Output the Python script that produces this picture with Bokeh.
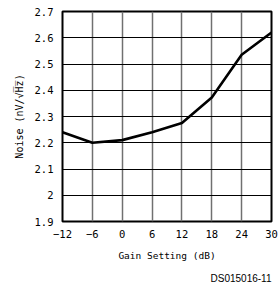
from bokeh.plotting import figure
from bokeh.embed import file_html
from bokeh.resources import INLINE
from bokeh.models import Title, FixedTicker

gain_db = [-12, -6, 0, 6, 12, 18, 24, 30]
noise = [2.24, 2.20, 2.21, 2.24, 2.275, 2.372, 2.535, 2.62]
x_ticks = [-12, -6, 0, 6, 12, 18, 24, 30]
x_tick_labels = ["\u221212", "\u22126", "0", "6", "12", "18", "24", "30"]
y_ticks = [1.9, 2.0, 2.1, 2.2, 2.3, 2.4, 2.5, 2.6, 2.7]
y_tick_labels = ["1.9", "2", "2.1", "2.2", "2.3", "2.4", "2.5", "2.6", "2.7"]
figure_id = "DS015016-11"

MONO = "DejaVu Sans Mono"

p = figure(width=280, height=282, output_backend="svg", toolbar_location=None,
           x_range=(-12, 30), y_range=(1.9, 2.7),
           frame_width=209, frame_height=210,
           min_border_left=62, min_border_top=11, min_border_right=9, min_border_bottom=0)

p.line(gain_db, noise, line_color="black", line_width=2.6)

p.xaxis.ticker = FixedTicker(ticks=x_ticks)
p.yaxis.ticker = FixedTicker(ticks=y_ticks)
p.xaxis.major_label_overrides = {t: l for t, l in zip(x_ticks, x_tick_labels)}
p.yaxis.major_label_overrides = {t: l for t, l in zip(y_ticks, y_tick_labels)}

for ax in (p.xaxis, p.yaxis):
    ax.major_tick_out = 0
    ax.major_tick_in = 0
    ax.minor_tick_out = 0
    ax.minor_tick_in = 0
    ax.axis_line_color = None
    ax.major_label_text_font = MONO
    ax.major_label_text_font_size = "10.5px"
    ax.major_label_text_color = "black"
    ax.axis_label_text_font = MONO
    ax.axis_label_text_font_style = "normal"
    ax.axis_label_text_color = "black"

p.xaxis.axis_label_text_font_size = "9.5px"
p.yaxis.axis_label_text_font_size = "10px"
p.xaxis.major_label_standoff = 8
p.yaxis.major_label_standoff = 9
p.xaxis.axis_label = "Gain Setting (dB)"
p.yaxis.axis_label = "Noise (nV/\u221aH\u0305z\u0305)"
p.xaxis.axis_label_standoff = 9
p.yaxis.axis_label_standoff = 7

p.xgrid.grid_line_color = "#707070"
p.xgrid.grid_line_width = 1.5
p.ygrid.grid_line_color = "black"
p.ygrid.grid_line_width = 1

p.outline_line_color = "black"
p.outline_line_width = 2
p.background_fill_color = "white"
p.border_fill_color = "white"

p.add_layout(Title(text=figure_id, align="right", text_font="Liberation Sans",
                   text_font_size="10px", text_font_style="normal", text_color="black",
                   standoff=14, offset=0, text_line_height=1.0), "below")

open("out.html", "w").write(file_html(p, INLINE))
